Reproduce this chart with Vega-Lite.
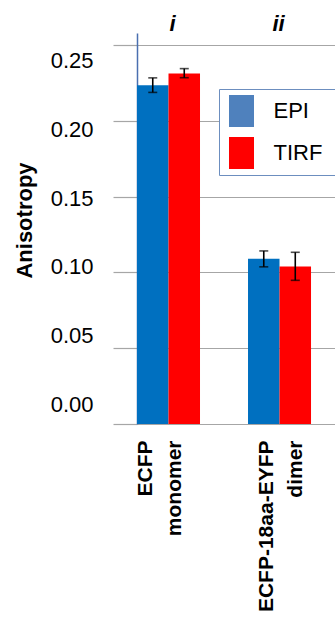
{
  "$schema": "https://vega.github.io/schema/vega-lite/v6.json",
  "autosize": {"type": "none"},
  "padding": {"left": 137, "top": 33, "right": 0, "bottom": 196},
  "width": 198,
  "height": 391,
  "background": "white",
  "config": {
    "view": {"stroke": null},
    "font": "Liberation Sans",
    "axisY": {
      "grid": true,
      "gridColor": "#A6A6A6",
      "gridWidth": 1.2,
      "tickSize": 24,
      "tickColor": "#A6A6A6",
      "tickWidth": 1.2,
      "domainColor": "#4A6FB0",
      "domainWidth": 1.5,
      "labelFontSize": 22,
      "labelColor": "#000000",
      "labelPadding": 20,
      "titleFontSize": 22,
      "titleFontWeight": "bold",
      "titleColor": "#000000"
    }
  },
  "data": {
    "values": [
      {"group": "ECFP|monomer", "roman": "i", "mode": "EPI", "value": 0.2236, "lo": 0.2188, "hi": 0.2284},
      {"group": "ECFP|monomer", "roman": "i", "mode": "TIRF", "value": 0.2313, "lo": 0.2285, "hi": 0.2345},
      {"group": "ECFP-18aa-EYFP|dimer", "roman": "ii", "mode": "EPI", "value": 0.109, "lo": 0.1037, "hi": 0.1142},
      {"group": "ECFP-18aa-EYFP|dimer", "roman": "ii", "mode": "TIRF", "value": 0.104, "lo": 0.0948, "hi": 0.1133}
    ]
  },
  "layer": [
    {
      "mark": {"type": "bar"},
      "encoding": {
        "x": {
          "field": "group", "type": "nominal", "sort": null,
          "scale": {"paddingInner": 0.4324, "paddingOuter": 0.108, "align": 0},
          "axis": {
            "orient": "bottom",
            "title": null,
            "ticks": false,
            "tickSize": 0,
            "domainColor": "#A6A6A6",
            "labelAngle": -90,
            "labelAlign": "right",
            "labelBaseline": "middle",
            "labelFontSize": 21,
            "labelFontWeight": "bold",
            "labelColor": "#000000",
            "labelLineHeight": 29,
            "labelPadding": 16,
            "labelLimit": 300,
            "labelOffset": {"condition": {"test": "datum.value === 'ECFP|monomer'", "value": -23}, "value": -13},
            "labelExpr": "split(datum.label, '|')"
          }
        },
        "xOffset": {"field": "mode", "type": "nominal", "sort": ["EPI", "TIRF"]},
        "y": {
          "field": "value", "type": "quantitative",
          "scale": {"domain": [0, 0.258], "nice": false},
          "axis": {
            "title": "Anisotropy",
            "values": [0, 0.05, 0.1, 0.15, 0.2, 0.25],
            "format": ".2f",
            "titleAngle": -90,
            "titleBaseline": "alphabetic",
            "titleX": -105.5,
            "titleY": 187,
            "labelOffset": {"condition": [
              {"test": "datum.value > 0.24", "value": 15},
              {"test": "datum.value > 0.19", "value": 9},
              {"test": "datum.value > 0.14", "value": 2},
              {"test": "datum.value > 0.09", "value": -5.5},
              {"test": "datum.value > 0.04", "value": -12.5}
            ], "value": -19.5}
          }
        },
        "color": {
          "field": "mode", "type": "nominal",
          "scale": {"domain": ["EPI", "TIRF"], "range": ["#0070C0", "#FF0000"]},
          "legend": null
        }
      }
    },
    {
      "mark": {"type": "bar"},
      "encoding": {
        "x": {"field": "group", "type": "nominal", "sort": null, "axis": null},
        "xOffset": {"field": "mode", "type": "nominal", "sort": ["EPI", "TIRF"]},
        "y": {"field": "value", "type": "quantitative", "title": "Anisotropy"},
        "y2": {"field": "value"},
        "color": {
          "field": "mode", "type": "nominal",
          "scale": {"domain": ["EPI", "TIRF"], "range": ["#4F81BD", "#FF0000"]},
          "legend": {
            "orient": "none",
            "legendX": 82,
            "legendY": 56,
            "title": "M",
            "titleOrient": "right",
            "titleFontSize": 11,
            "titleColor": "transparent",
            "titlePadding": 0,
            "padding": 6,
            "strokeColor": "#6C8EBF",
            "fillColor": "#FFFFFF",
            "symbolType": "M-0.78,-1H0.78V1H-0.78Z",
            "symbolSize": 1024,
            "symbolStrokeWidth": 0,
            "symbolOpacity": 1,
            "symbolOffset": 0.5,
            "rowPadding": 10,
            "labelOffset": 16,
            "labelFontSize": 22,
            "labelColor": "#000000"
          }
        }
      }
    },
    {
      "mark": {"type": "rule", "color": "#000000", "strokeWidth": 1.6},
      "encoding": {
        "x": {"field": "group", "type": "nominal", "sort": null, "axis": null},
        "xOffset": {"field": "mode", "type": "nominal", "sort": ["EPI", "TIRF"]},
        "y": {"field": "lo", "type": "quantitative", "title": "Anisotropy"},
        "y2": {"field": "hi"}
      }
    },
    {
      "mark": {"type": "tick", "color": "#000000", "size": 9, "thickness": 1.6, "orient": "horizontal"},
      "encoding": {
        "x": {"field": "group", "type": "nominal", "sort": null, "axis": null},
        "xOffset": {"field": "mode", "type": "nominal", "sort": ["EPI", "TIRF"]},
        "y": {"field": "lo", "type": "quantitative", "title": "Anisotropy"}
      }
    },
    {
      "mark": {"type": "tick", "color": "#000000", "size": 9, "thickness": 1.6, "orient": "horizontal"},
      "encoding": {
        "x": {"field": "group", "type": "nominal", "sort": null, "axis": null},
        "xOffset": {"field": "mode", "type": "nominal", "sort": ["EPI", "TIRF"]},
        "y": {"field": "hi", "type": "quantitative", "title": "Anisotropy"}
      }
    },
    {
      "mark": {"type": "tick", "opacity": 0},
      "encoding": {
        "x": {
          "field": "group", "type": "nominal", "sort": null,
          "axis": {
            "orient": "top",
            "title": null,
            "domain": false,
            "ticks": false,
            "tickSize": 0,
            "labelAngle": 0,
            "labelAlign": "center",
            "labelBaseline": "alphabetic",
            "labelPadding": 3,
            "labelFontSize": 22,
            "labelFontWeight": "bold",
            "labelFontStyle": "italic",
            "labelColor": "#000000",
            "labelOffset": {"condition": {"test": "datum.value === 'ECFP|monomer'", "value": 4}, "value": -1},
            "labelExpr": "datum.value === 'ECFP|monomer' ? 'i' : 'ii'"
          }
        },
        "y": {"field": "hi", "type": "quantitative", "title": "Anisotropy"}
      }
    }
  ],
  "resolve": {"axis": {"x": "independent"}, "scale": {"color": "independent"}, "legend": {"color": "independent"}}
}
